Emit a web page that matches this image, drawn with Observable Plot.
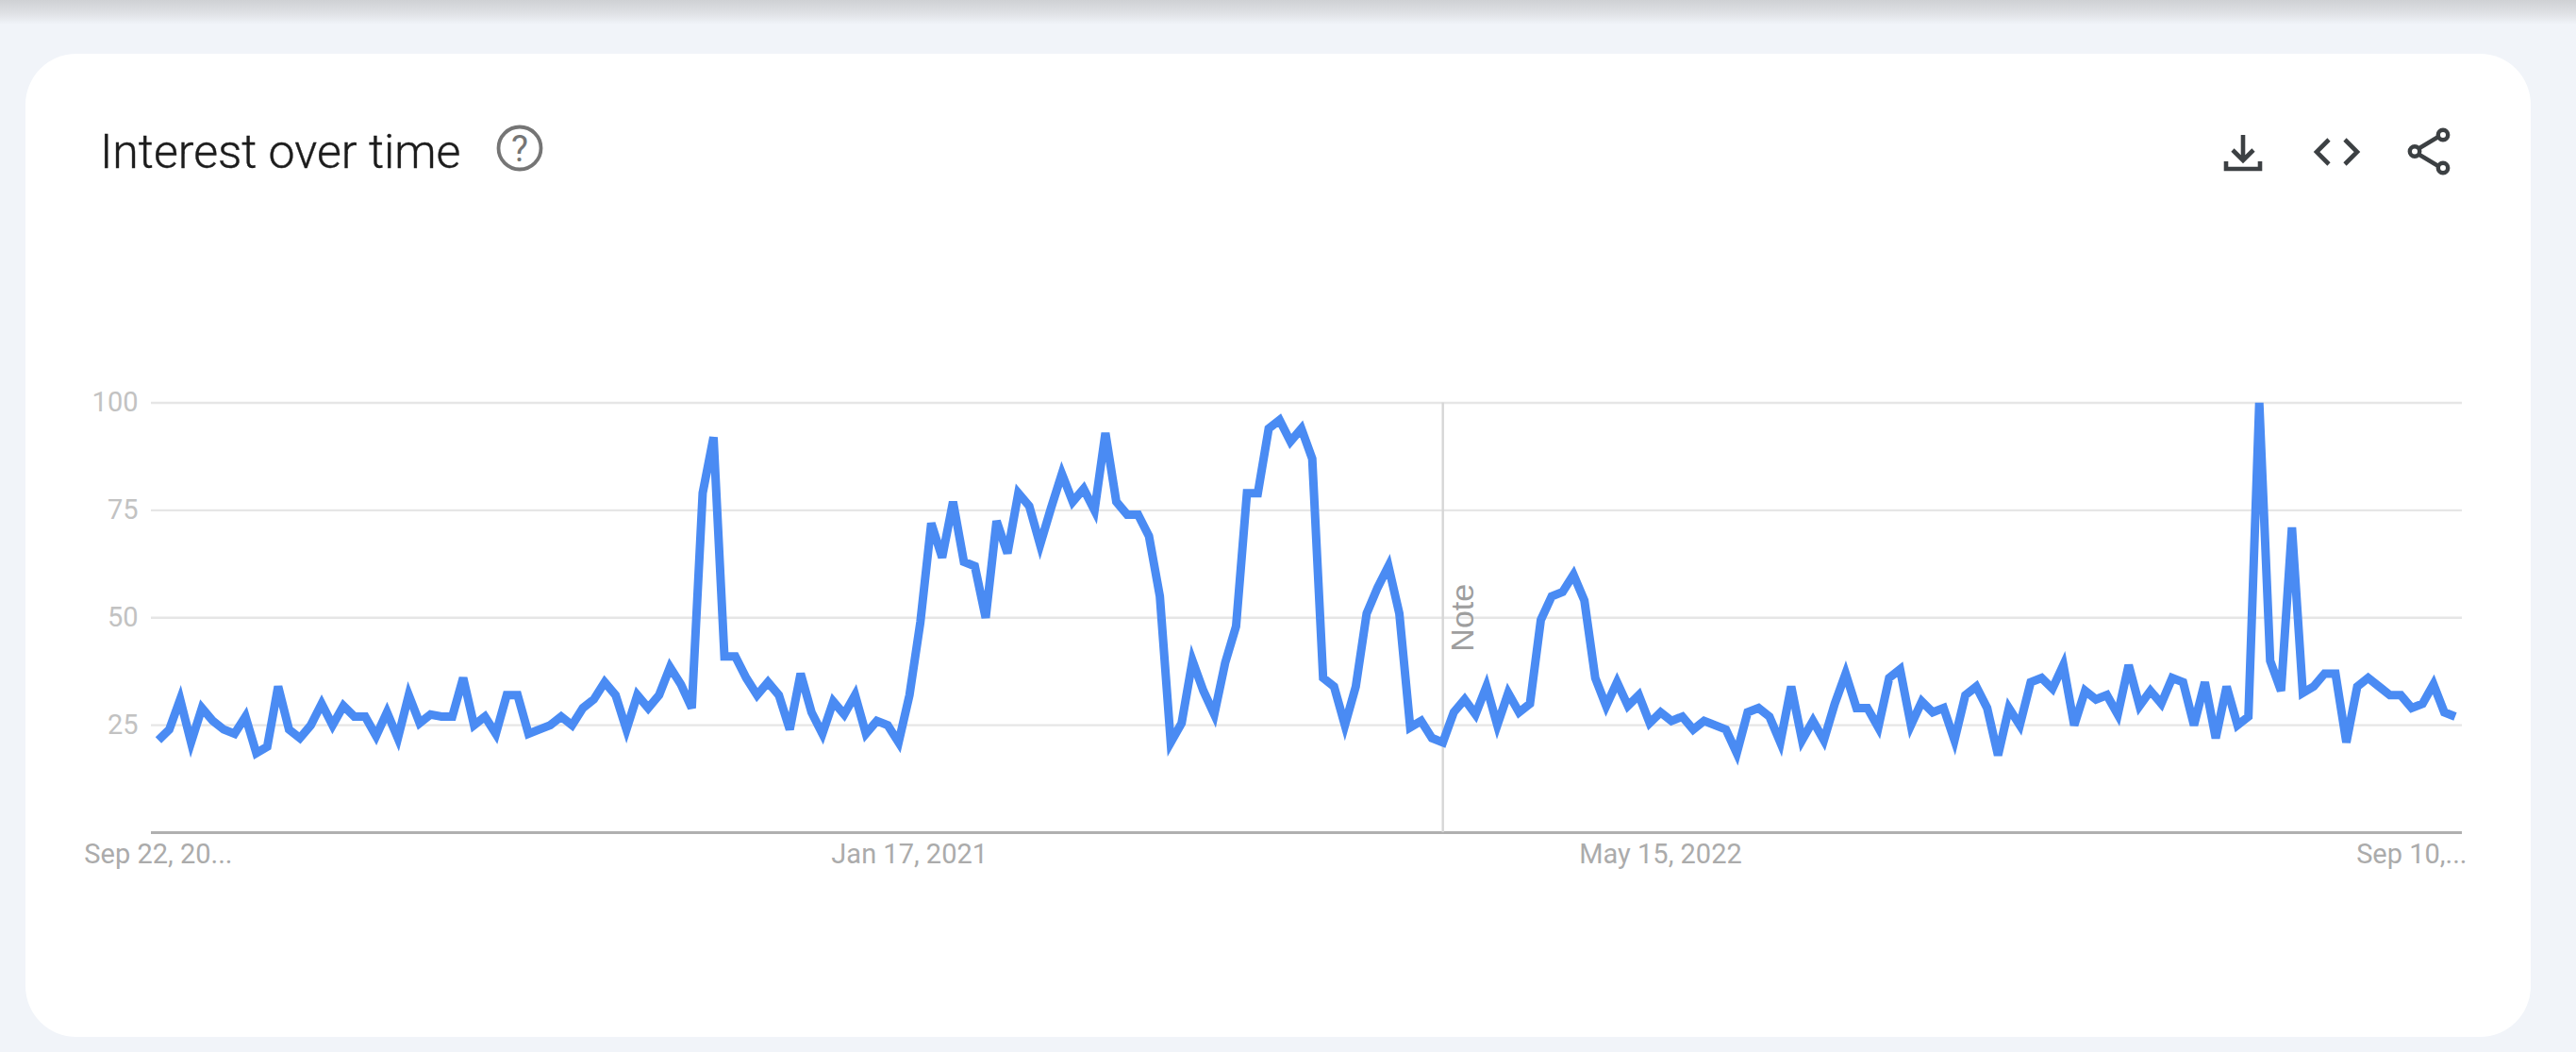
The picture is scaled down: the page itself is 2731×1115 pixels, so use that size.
<!DOCTYPE html>
<html>
<head>
<meta charset="utf-8">
<title>Interest over time</title>
<script src="https://cdn.jsdelivr.net/npm/d3@7"></script>
<script src="https://cdn.jsdelivr.net/npm/@observablehq/plot@0.6"></script>
<style>
  html, body { margin: 0; padding: 0; width: 2731px; height: 1115px; overflow: hidden; background: #f1f4f9; }
  #shadow { position: absolute; left: 0; top: 0; width: 2731px; height: 26px; background: linear-gradient(#cfd1d4, #dfe1e5 55%, #f1f4f9); }
  #card { position: absolute; left: 27px; top: 57px; width: 2656px; height: 1042px; background: #fff; border-radius: 54px; }
  #title { position: absolute; left: 106px; top: 133px; font: 300 50px/1.15 Roboto, sans-serif; -webkit-text-stroke: 0.4px #1c1c1c; color: #1c1c1c; white-space: nowrap; }
  #chart { position: absolute; left: 0; top: 300px; }
  .icon { position: absolute; overflow: visible; }
</style>
</head>
<body>
<div id="shadow"></div>
<div id="card"></div>
<div id="title">Interest over time</div>

<svg class="icon" style="left:525px;top:131px" width="52" height="52" viewBox="0 0 52 52" fill="none">
  <circle cx="26" cy="26" r="22.5" stroke="#757575" stroke-width="3.8"/>
  <text x="26" y="39.5" text-anchor="middle" font-family="Roboto, sans-serif" font-size="38" fill="#757575">?</text>
</svg>
<svg class="icon" style="left:2358px;top:143px" width="40" height="40" viewBox="0 0 40 40" fill="none" stroke="#3c4043" stroke-width="4.6">
  <path d="M20 0V25M9 16L20 27L31 16"/>
  <path d="M2 28V36H38V28"/>
</svg>
<svg class="icon" style="left:2453px;top:147px" width="49" height="28" viewBox="0 0 49 28" fill="none" stroke="#3c4043" stroke-width="4.6">
  <path d="M16 1L3 14L16 27M33 1L46 14L33 27"/>
</svg>
<svg class="icon" style="left:2553px;top:136px" width="45" height="49" viewBox="0 0 45 49" fill="none" stroke="#3c4043" stroke-width="4.4">
  <path d="M12 21L32 9M12 28L32 40"/>
  <circle cx="7" cy="24.5" r="5.2"/><circle cx="37" cy="7" r="5.2"/><circle cx="37" cy="42" r="5.2"/>
</svg>

<div id="chart"></div>

<script>
const startDate = new Date(Date.UTC(2019, 8, 22));
const noteDate = new Date(Date.UTC(2021, 11, 26));
const noteLabel = "Note";
const gridValues = [25, 50, 75, 100];
const tickDates = [
  new Date(Date.UTC(2019, 8, 22)),
  new Date(Date.UTC(2021, 0, 17)),
  new Date(Date.UTC(2022, 4, 15)),
  new Date(Date.UTC(2023, 8, 10))
];
const tickLabels = ["Sep 22, 20...", "Jan 17, 2021", "May 15, 2022", "Sep 10,..."];

const valuesA = [21.5,24,31,21,29,26,24,23,27,18.5,20,34,24,22,25,30,25,29.5,27,27,22.5,28,22,32,25.5,27.5,27,27,36,25,27,23,32,32,23,24,25,27,25,29,31,35,32,24,32,29,32];
const valuesB = [38.5,34.5,29,79,92,41,41,36,32,35,32,24,37,28,23,30.5,27.5,32,23,26,25,21,32,49,72,64,77,63,62,50,72.5,65,79,76,67,75.5,83.5,77,80,75,93,77,74,74,69,55,21,25.5,40,33,27.5,39.5,48,79,79,94,96,91,94];
const valuesC = [87,36,34,25,34,51,57,62,51,24.5,26,22,21,28,31,27.5,34,25,32.5,28,30,49.5,55,56,60,54,36,29.5,35,29.5,32,25.5,28,26,27,24,26,25,24,18.5,28,29,27,21,34,21.5,26,21.5,30,37,29,29,24.5,36,38,25,30.5,28,29];
const valuesD = [21.5,32,34,29,18,29,25,35,36,33.5,39,25,33,31,32,27.5,39,29.5,33,30,36,35,25,35,22,34,25,27,100,40,33,71,32.5,34,37,37,21,34,36,34,32,32,29,30,34.5,28,27];

const interest = [...valuesA, ...valuesB, ...valuesC, ...valuesD];
const table = interest.map((value, i) => ({date: d3.utcDay.offset(startDate, 7 * i), value}));
const labelByTime = new Map(tickDates.map((d, i) => [+d, tickLabels[i]]));

const plot = Plot.plot({
  width: 2731,
  height: 660,
  marginLeft: 160,
  marginRight: 121,
  marginTop: 126.5,
  marginBottom: 78,
  style: {background: "transparent", fontFamily: "Roboto, sans-serif", fontSize: "29px"},
  x: {type: "utc", domain: [d3.utcHour.offset(startDate, -108), d3.utcHour.offset(startDate, 7 * 24 * 211.66)]},
  y: {domain: [0, 100]},
  marks: [
    Plot.ruleY(gridValues, {stroke: "#e6e6e6", strokeWidth: 2.4}),
    Plot.ruleY([0], {stroke: "#b0b0b0", strokeWidth: 3}),
    Plot.ruleX([noteDate], {y1: 0, y2: 100, stroke: "#d6d6d6", strokeWidth: 2.4}),
    Plot.text([noteLabel], {x: noteDate, y: 50, text: d => d, rotate: -90, dx: 21, fill: "#9e9e9e", fontSize: 34, fontFamily: "Liberation Sans, sans-serif"}),
    Plot.axisY(gridValues, {anchor: "left", tickSize: 0, tickPadding: 14, fill: "#c2c2c2", label: null, fontSize: 29}),
    Plot.axisX(tickDates, {anchor: "bottom", tickSize: 0, tickPadding: 12, fill: "#ababab", label: null, fontSize: 29, tickFormat: d => labelByTime.get(+d)}),
    Plot.line(table, {x: "date", y: "value", stroke: "#4a8bf3", strokeWidth: 9, strokeLinejoin: "miter", strokeLinecap: "butt", strokeMiterlimit: 4, curve: "linear"})
  ]
});
document.getElementById("chart").appendChild(plot);
</script>
</body>
</html>
